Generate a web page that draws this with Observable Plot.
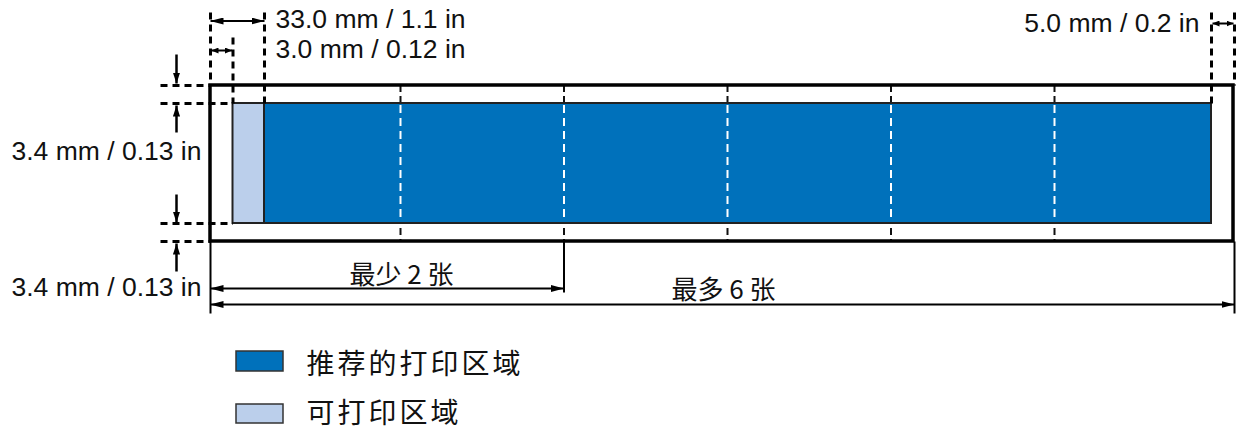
<!DOCTYPE html>
<html>
<head>
<meta charset="utf-8">
<script src="https://cdn.jsdelivr.net/npm/d3@7"></script>
<script src="https://cdn.jsdelivr.net/npm/@observablehq/plot@0.6"></script>
<style>
  body { margin: 0; background: #fff; }
  svg { display: block; }
</style>
</head>
<body>
<div id="chart"></div>
<script>
// ---- Diagram values (schematic units, not to scale) ----
const sheetX = [210, 1233];          // full sheet, left / right edge
const sheetY = [85, 241];            // full sheet, top / bottom edge
const printableX = [232.5, 1211];    // printable area
const printableY = [103, 223];
const recommendedX = [264, 1211];    // recommended print area
const panelDividers = [400, 563.5, 727, 890.5, 1054];
const minPanelsEnd = 563.5;

const dimLabels = ["33.0 mm / 1.1 in", "3.0 mm / 0.12 in", "5.0 mm / 0.2 in", "3.4 mm / 0.13 in", "3.4 mm / 0.13 in"];
const countLabels = ["最少 2 张", "最多 6 张"];
const legendLabels = ["推荐的打印区域", "可打印区域"];
const legendColors = ["#0071bb", "#bbcfeb"];

// ---- derived tables ----
const FONT = "'Liberation Sans', Arial, Helvetica, 'Noto Sans CJK SC', sans-serif";
const CJK = "'Noto Sans CJK SC', 'Liberation Sans', sans-serif";

const guides = [
  {x1: sheetX[0], y1: 12, x2: sheetX[0], y2: sheetY[0]},
  {x1: printableX[0], y1: 37, x2: printableX[0], y2: printableY[0]},
  {x1: recommendedX[0], y1: 12, x2: recommendedX[0], y2: printableY[0]},
  {x1: printableX[1], y1: 12, x2: printableX[1], y2: printableY[0]},
  {x1: sheetX[1] + 1, y1: 12, x2: sheetX[1] + 1, y2: sheetY[0]},
  {x1: 160, y1: sheetY[0], x2: sheetX[0], y2: sheetY[0]},
  {x1: 160, y1: printableY[0], x2: printableX[0], y2: printableY[0]},
  {x1: 160, y1: printableY[1], x2: printableX[0], y2: printableY[1]},
  {x1: 160, y1: sheetY[1], x2: sheetX[0], y2: sheetY[1]}
];
const extensions = [
  {x1: sheetX[0], y1: sheetY[1], x2: sheetX[0], y2: 313},
  {x1: minPanelsEnd, y1: sheetY[1], x2: minPanelsEnd, y2: 292},
  {x1: sheetX[1] + 1, y1: sheetY[1], x2: sheetX[1] + 1, y2: 313}
];
const bigDouble = [
  {x1: sheetX[0], y1: 20.5, x2: recommendedX[0], y2: 20.5},
  {x1: sheetX[0], y1: 288, x2: minPanelsEnd, y2: 288},
  {x1: sheetX[0], y1: 304, x2: sheetX[1] + 1, y2: 304}
];
const smallDouble = [
  {x1: sheetX[0] + 1, y1: 50, x2: printableX[0] - 1, y2: 50},
  {x1: printableX[1] + 1, y1: 23, x2: sheetX[1], y2: 23}
];
const single = [
  {x1: 176, y1: 54, x2: 176, y2: sheetY[0] - 2},
  {x1: 176, y1: 132, x2: 176, y2: printableY[0] + 2},
  {x1: 176, y1: 194, x2: 176, y2: printableY[1] - 1},
  {x1: 176, y1: 271, x2: 176, y2: sheetY[1] + 2}
];
const dimTextStart = [
  {x: 275, y: 27, t: dimLabels[0]},
  {x: 275, y: 57, t: dimLabels[1]}
];
const dimTextEnd = [
  {x: 1199, y: 31, t: dimLabels[2]},
  {x: 201, y: 159, t: dimLabels[3]},
  {x: 201, y: 295, t: dimLabels[4]}
];
const countText = [
  {x: 401, y: 283, t: countLabels[0]},
  {x: 723, y: 298, t: countLabels[1]}
];
const legend = legendLabels.map((t, i) => ({
  t, color: legendColors[i],
  x1: 236, x2: 283,
  y1: [351, 404][i], y2: [371, 423][i],
  tx: 306, ty: [373, 422][i]
}));

const chart = Plot.plot({
  width: 1239,
  height: 431,
  margin: 0,
  style: {background: "white", fontFamily: FONT},
  x: {domain: [0, 1239], range: [0, 1239], axis: null},
  y: {domain: [0, 431], range: [0, 431], axis: null},
  marks: [
    // sheet
    Plot.rect([0], {x1: sheetX[0], x2: sheetX[1], y1: sheetY[0], y2: sheetY[1], fill: "white"}),
    // black dashed panel dividers (visible in the margins)
    Plot.ruleX(panelDividers, {x: d => d, y1: sheetY[0], y2: sheetY[1], stroke: "#111", strokeWidth: 2, strokeDasharray: "7,4"}),
    // printable + recommended areas
    Plot.rect([0], {x1: printableX[0], x2: printableX[1], y1: printableY[0], y2: printableY[1], fill: legendColors[1], stroke: "#222", strokeWidth: 2}),
    Plot.rect([0], {x1: recommendedX[0], x2: recommendedX[1], y1: printableY[0], y2: printableY[1], fill: legendColors[0], stroke: "#222", strokeWidth: 2}),
    // white dashed dividers inside the print area
    Plot.ruleX(panelDividers, {x: d => d, y1: printableY[0] + 2, y2: printableY[1] - 2, stroke: "white", strokeWidth: 2, strokeDasharray: "8,5"}),
    // sheet outline
    Plot.rect([0], {x1: sheetX[0], x2: sheetX[1], y1: sheetY[0], y2: sheetY[1], fill: "none", stroke: "black", strokeWidth: 3.5}),
    // dashed guides (link #0)
    Plot.link(guides, {x1: "x1", y1: "y1", x2: "x2", y2: "y2", stroke: "black", strokeWidth: 3, strokeDasharray: "7,5"}),
    // extension lines (link #1)
    Plot.link(extensions, {x1: "x1", y1: "y1", x2: "x2", y2: "y2", stroke: "black", strokeWidth: 2}),
    // arrows (link #2, #3, #4)
    Plot.link(bigDouble, {x1: "x1", y1: "y1", x2: "x2", y2: "y2", stroke: "black", strokeWidth: 2}),
    Plot.link(smallDouble, {x1: "x1", y1: "y1", x2: "x2", y2: "y2", stroke: "black", strokeWidth: 2}),
    Plot.link(single, {x1: "x1", y1: "y1", x2: "x2", y2: "y2", stroke: "black", strokeWidth: 2.5}),
    // dimension labels (text #0, #1)
    Plot.text(dimTextStart, {x: "x", y: "y", text: "t", textAnchor: "start", lineAnchor: "bottom", fontSize: 26.5, fill: "#111", fontFamily: FONT}),
    Plot.text(dimTextEnd, {x: "x", y: "y", text: "t", textAnchor: "end", lineAnchor: "bottom", fontSize: 26.5, fill: "#111", fontFamily: FONT}),
    // counts (text #2)
    Plot.text(countText, {x: "x", y: "y", text: "t", textAnchor: "middle", lineAnchor: "bottom", fontSize: 26, fill: "#111", fontFamily: CJK}),
    // legend (text #3)
    Plot.rect(legend, {x1: "x1", x2: "x2", y1: "y1", y2: "y2", fill: "color", stroke: "#333", strokeWidth: 1.5}),
    Plot.text(legend, {x: "tx", y: "ty", text: "t", textAnchor: "start", lineAnchor: "bottom", fontSize: 28, fill: "#111", fontFamily: CJK})
  ]
});

// filled arrowheads (custom SVG markers)
const ns = "http://www.w3.org/2000/svg";
const defs = document.createElementNS(ns, "defs");
function addMarker(id, len, half) {
  const m = document.createElementNS(ns, "marker");
  m.setAttribute("id", id);
  m.setAttribute("markerUnits", "userSpaceOnUse");
  m.setAttribute("viewBox", `0 ${-half} ${len} ${2 * half}`);
  m.setAttribute("refX", len);
  m.setAttribute("refY", 0);
  m.setAttribute("markerWidth", len);
  m.setAttribute("markerHeight", 2 * half);
  m.setAttribute("orient", "auto-start-reverse");
  const p = document.createElementNS(ns, "path");
  p.setAttribute("d", `M0,${-half}L${len},0L0,${half}Z`);
  p.setAttribute("fill", "black");
  m.appendChild(p);
  defs.appendChild(m);
}
addMarker("ahBig", 13, 3.5);
addMarker("ahSmall", 7, 3);
addMarker("ahSingle", 11, 3.6);
chart.insertBefore(defs, chart.firstChild);

const linkGroups = chart.querySelectorAll('g[aria-label="link"]');
const setMarkers = (g, start, end) => g && g.querySelectorAll("path").forEach(p => {
  if (start) p.setAttribute("marker-start", `url(#${start})`);
  if (end) p.setAttribute("marker-end", `url(#${end})`);
});
setMarkers(linkGroups[2], "ahBig", "ahBig");
setMarkers(linkGroups[3], "ahSmall", "ahSmall");
setMarkers(linkGroups[4], null, "ahSingle");

const textGroups = chart.querySelectorAll('g[aria-label="text"]');
if (textGroups[3]) textGroups[3].querySelectorAll("text").forEach(t => { t.style.letterSpacing = "3px"; });

document.getElementById("chart").appendChild(chart);
</script>
</body>
</html>
